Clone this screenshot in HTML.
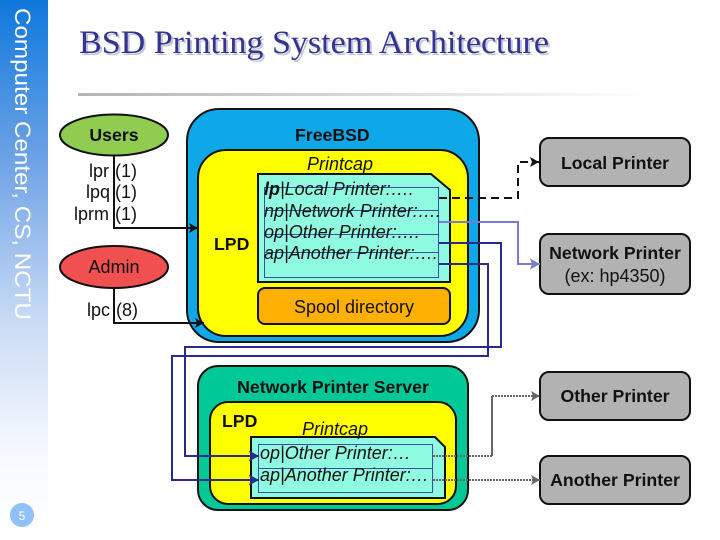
<!DOCTYPE html>
<html>
<head>
<meta charset="utf-8">
<style>
html,body{margin:0;padding:0;background:#fff;}
svg{display:block;}
text{font-family:"Liberation Sans",sans-serif;fill:#111;}
.b{font-weight:bold;font-size:17.700px;}
.r{font-size:18px;}
.i{font-style:italic;font-size:18px;}
.m{text-anchor:middle;}
.box{stroke:#111;stroke-width:2;}
</style>
</head>
<body>
<svg width="720" height="540" viewBox="0 0 720 540" xmlns="http://www.w3.org/2000/svg">
<defs>
<linearGradient id="side" x1="0" y1="0" x2="0" y2="1">
<stop offset="0" stop-color="#0f78dc"/>
<stop offset="0.3" stop-color="#6fa3e6"/>
<stop offset="0.6" stop-color="#cbdcf6"/>
<stop offset="0.85" stop-color="#f8faff"/>
<stop offset="1" stop-color="#ffffff"/>
</linearGradient>
<linearGradient id="rule" x1="0" y1="0" x2="1" y2="0">
<stop offset="0" stop-color="#b4b4b4"/>
<stop offset="1" stop-color="#ffffff"/>
</linearGradient>
<marker id="ak" markerWidth="11" markerHeight="11" refX="9" refY="5" orient="auto" markerUnits="userSpaceOnUse"><path d="M0,0 L9,5 L0,10 L2,5 Z" fill="#111"/></marker>
<marker id="ap" markerWidth="12" markerHeight="12" refX="10" refY="5.500" orient="auto" markerUnits="userSpaceOnUse"><path d="M0,0 L10,5.500 L0,11 L2,5.500 Z" fill="#7b7bcf"/></marker>
<marker id="an" markerWidth="12" markerHeight="12" refX="10" refY="5.500" orient="auto" markerUnits="userSpaceOnUse"><path d="M0,0 L10,5.500 L0,11 L2,5.500 Z" fill="#2a2a8c"/></marker>
<marker id="ag" markerWidth="11" markerHeight="11" refX="9" refY="5" orient="auto" markerUnits="userSpaceOnUse"><path d="M0,0 L9,5 L0,10 L2,5 Z" fill="#666"/></marker>
</defs>

<rect x="0" y="0" width="48" height="540" fill="url(#side)"/>
<text transform="translate(15,8) rotate(90)" font-size="22" style="fill:#fff" textLength="312" lengthAdjust="spacingAndGlyphs">Computer Center, CS, NCTU</text>
<circle cx="22" cy="515" r="12" fill="#8fc1f8"/>
<text x="22" y="520" class="m" font-size="12" style="fill:#fff">5</text>

<text x="81" y="55" font-size="33" textLength="470" lengthAdjust="spacingAndGlyphs" style="font-family:'Liberation Serif',serif;fill:#c4c4d8">BSD Printing System Architecture</text>
<text x="79" y="53" font-size="33" textLength="470" lengthAdjust="spacingAndGlyphs" style="font-family:'Liberation Serif',serif;fill:#333391">BSD Printing System Architecture</text>
<rect x="78" y="93" width="572" height="3" fill="url(#rule)"/>

<!-- FreeBSD -->
<rect x="187" y="109" width="292" height="233" rx="32" fill="#0ea8e8" class="box"/>
<rect x="198" y="150" width="270" height="186" rx="28" fill="#ffff00" class="box"/>
<path d="M258,174 H431 L450,190 V282 H258 Z" fill="#8ffbe0" class="box"/>
<g fill="none" stroke="#3c4fa0" stroke-width="1">
<rect x="264.500" y="187.500" width="174" height="90"/>
<path d="M264,210.500H439M264,234.500H439M264,252.500H439"/>
</g>
<rect x="258" y="288" width="192" height="36" rx="7" fill="#ffb000" class="box"/>

<text x="295" y="141" class="b">FreeBSD</text>
<text x="307" y="170" class="i">Printcap</text>
<text x="264" y="195" class="i"><tspan font-weight="bold">lp</tspan>|Local Printer:….</text>
<text x="264" y="217" class="i">np|Network Printer:….</text>
<text x="264" y="238" class="i">op|Other Printer:….</text>
<text x="264" y="259" class="i">ap|Another Printer:….</text>
<text x="214" y="250" class="b">LPD</text>
<text x="354" y="313" class="r m">Spool directory</text>

<!-- Network printer server -->
<rect x="198" y="366" width="270" height="144" rx="20" fill="#00c896" class="box"/>
<rect x="210" y="402" width="246" height="102" rx="18" fill="#ffff00" class="box"/>
<path d="M251,437 H435 L445,447 V498 H251 Z" fill="#8ffbe0" class="box"/>
<g fill="none" stroke="#3c4fa0" stroke-width="1">
<rect x="258.500" y="444.500" width="174" height="48"/>
<path d="M258,468.500H433"/>
</g>
<text x="333" y="393" class="b m">Network Printer Server</text>
<text x="222" y="427" class="b">LPD</text>
<text x="302" y="435" class="i">Printcap</text>
<text x="260" y="459" class="i">op|Other Printer:…</text>
<text x="260" y="481" class="i">ap|Another Printer:…</text>

<!-- Ellipses -->
<ellipse cx="114" cy="135" rx="54" ry="20.500" fill="#8fcc50" class="box"/>
<text x="114" y="141" class="b m">Users</text>
<ellipse cx="114" cy="267" rx="54" ry="21" fill="#f05050" class="box"/>
<text x="114" y="273" class="r m">Admin</text>

<!-- Left connectors -->
<path d="M114,156 V228 H198" fill="none" stroke="#111" stroke-width="2" marker-end="url(#ak)"/>
<path d="M114,288 V323 H204" fill="none" stroke="#111" stroke-width="2" marker-end="url(#ak)"/>
<text x="89" y="177" class="r">lpr</text><text x="115" y="177" class="r">(1)</text>
<text x="86" y="198" class="r">lpq</text><text x="115" y="198" class="r">(1)</text>
<text x="74" y="220" class="r">lprm</text><text x="115" y="220" class="r">(1)</text>
<text x="87" y="316" class="r">lpc</text><text x="116" y="316" class="r">(8)</text>

<!-- Printers -->
<rect x="540" y="138" width="150" height="48" rx="9" fill="#b2b2b2" class="box"/>
<rect x="540" y="234" width="150" height="60" rx="9" fill="#b2b2b2" class="box"/>
<rect x="540" y="372" width="150" height="48" rx="9" fill="#b2b2b2" class="box"/>
<rect x="540" y="456" width="150" height="48" rx="9" fill="#b2b2b2" class="box"/>
<text x="615" y="169" class="b m">Local Printer</text>
<text x="615" y="259" class="b m">Network Printer</text>
<text x="615" y="282" class="r m">(ex: hp4350)</text>
<text x="615" y="402" class="b m">Other Printer</text>
<text x="615" y="486" class="b m">Another Printer</text>

<!-- Right connectors -->
<path d="M439,198 H518 V162 H539" fill="none" stroke="#111" stroke-width="2" stroke-dasharray="8 5" marker-end="url(#ak)"/>
<path d="M439,222 H518 V264 H540" fill="none" stroke="#7b7bcf" stroke-width="2" marker-end="url(#ap)"/>
<path d="M439,243 H501 V347 H185 V456 H259" fill="none" stroke="#2a2a8c" stroke-width="2" marker-end="url(#an)"/>
<path d="M439,264 H488 V356 H172 V480 H259" fill="none" stroke="#2a2a8c" stroke-width="2" marker-end="url(#an)"/>
<path d="M433,456 H492" fill="none" stroke="#666" stroke-width="2" stroke-dasharray="2 1"/>
<path d="M492,456 V396" fill="none" stroke="#666" stroke-width="2"/>
<path d="M492,396 H540" fill="none" stroke="#666" stroke-width="2" stroke-dasharray="2 1" marker-end="url(#ag)"/>
<path d="M433,480 H540" fill="none" stroke="#666" stroke-width="2" stroke-dasharray="2 1" marker-end="url(#ag)"/>
</svg>
</body>
</html>
